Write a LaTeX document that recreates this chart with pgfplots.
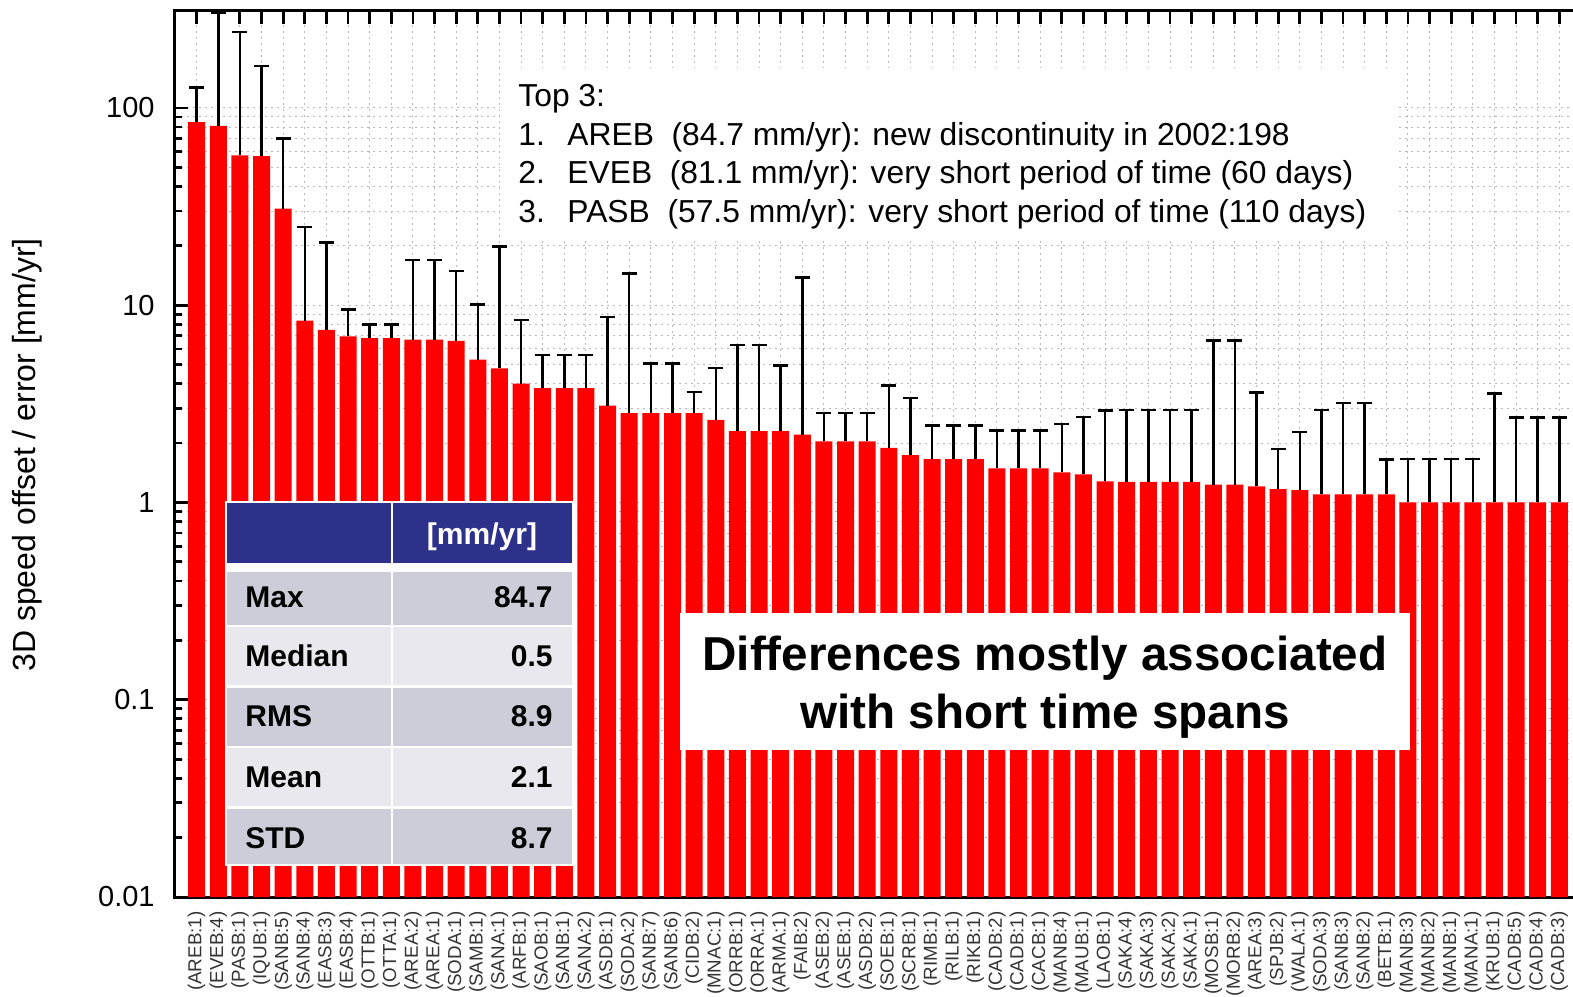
\documentclass[border=0pt]{standalone}
\usepackage{pgfplots}
\pgfplotsset{compat=1.18}
\usepackage{pgfplotstable}
\usepackage{fontspec}
\setmainfont{Liberation Sans}
\definecolor{tabnavy}{RGB}{46,49,137}
\definecolor{rowdark}{RGB}{205,205,217}
\definecolor{rowlight}{RGB}{232,232,238}

% station, 3D speed offset and upper error (mm/yr)
\pgfplotstableread{
x y e lab
1 84.7 42.3 (AREB:1)
2 81.1 224 (EVEB:4)
3 57.5 185.5 (PASB:1)
4 56.9 106.1 (IQUB:1)
5 30.9 39.1 (SANB:5)
6 8.36 16.54 (SANB:4)
7 7.5 13.3 (EASB:3)
8 6.94 2.56 (EASB:4)
9 6.8 1.2 (OTTB:1)
10 6.8 1.2 (OTTA:1)
11 6.7 10.2 (AREA:2)
12 6.7 10.2 (AREA:1)
13 6.6 8.3 (SODA:1)
14 5.3 4.8 (SAMB:1)
15 4.78 15.1 (SANA:1)
16 4.0 4.4 (ARFB:1)
17 3.8 1.8 (SAOB:1)
18 3.8 1.8 (SANB:1)
19 3.8 1.8 (SANA:2)
20 3.1 5.6 (ASDB:1)
21 2.84 11.66 (SODA:2)
22 2.84 2.23 (SANB:7)
23 2.84 2.23 (SANB:6)
24 2.84 0.8 (CIDB:2)
25 2.62 2.18 (MNAC:1)
26 2.30 3.97 (ORRB:1)
27 2.30 3.97 (ORRA:1)
28 2.30 2.66 (ARMA:1)
29 2.21 11.59 (FAIB:2)
30 2.04 0.8 (ASEB:2)
31 2.04 0.8 (ASEB:1)
32 2.04 0.8 (ASDB:2)
33 1.89 2.03 (SOEB:1)
34 1.74 1.64 (SCRB:1)
35 1.66 0.79 (RIMB:1)
36 1.66 0.79 (RILB:1)
37 1.66 0.79 (RIKB:1)
38 1.49 0.83 (CADB:2)
39 1.49 0.83 (CADB:1)
40 1.49 0.83 (CACB:1)
41 1.42 1.08 (MANB:4)
42 1.39 1.32 (MAUB:1)
43 1.28 1.65 (LAOB:1)
44 1.27 1.68 (SAKA:4)
45 1.27 1.68 (SAKA:3)
46 1.27 1.68 (SAKA:2)
47 1.27 1.68 (SAKA:1)
48 1.23 5.39 (MOSB:1)
49 1.23 5.39 (MORB:2)
50 1.205 2.415 (AREA:3)
51 1.17 0.70 (SPJB:2)
52 1.155 1.125 (WALA:1)
53 1.10 1.84 (SODA:3)
54 1.10 2.09 (SANB:3)
55 1.10 2.09 (SANB:2)
56 1.10 0.55 (BETB:1)
57 1.0 0.66 (MANB:3)
58 1.0 0.66 (MANB:2)
59 1.0 0.66 (MANB:1)
60 1.0 0.66 (MANA:1)
61 1.0 2.57 (KRUB:1)
62 1.0 1.69 (CADB:5)
63 1.0 1.69 (CADB:4)
64 1.0 1.69 (CADB:3)
}\speeds

\begin{document}
\begin{tikzpicture}
\begin{axis}[
    scale only axis,
    width=713.8pt, height=443pt,
    ymode=log, log origin=infty,
    xmin=0, xmax=66, ymin=0.01, ymax=310,
    ybar, bar width=8.5pt,
    xtick={1,...,64}, xtick pos=both, ytick pos=both, tick align=inside,
    xticklabels from table={\speeds}{lab},
    xticklabel style={yshift=-7pt, rotate=90, anchor=east, inner sep=0pt,
        font=\fontsize{9.4}{11}\selectfont, text=black!80},
    ytick={0.01,0.1,1,10,100},
    yticklabels={0.01,0.1,1,10,100},
    yticklabel style={anchor=east, inner sep=0pt, xshift=-10pt,
        font=\fontsize{14.5}{16}\selectfont},
    ylabel={3D speed offset / error [mm/yr]},
    ylabel style={at={(axis description cs:-0.1037,0.499)}, anchor=center,
        font=\fontsize{16}{18}\selectfont},
    grid=both,
    grid style={dash pattern=on 1.2pt off 1.8pt, gray!55, line width=0.5pt},
    minor grid style={dash pattern=on 1.2pt off 1.8pt, gray!55, line width=0.5pt},
    axis line style={line width=1.5pt},
    tick style={black, line width=1.4pt},
    major tick length=6.5pt, minor tick length=3.5pt,
]
\addplot[fill=red, draw=none,
    error bars/.cd, y dir=plus, y explicit,
    error bar style={black, line width=1.25pt},
    error mark options={rotate=90, black, line width=1.25pt, mark size=3.75pt}]
    table[x=x, y=y, y error=e]{\speeds};
\end{axis}

\begin{scope}[x=0.5pt, y=-0.5pt, shift={(-87.5pt,448.5pt)}]
  % tick comb hanging from the top frame, one per bar (21.63 px per bar)
  \foreach \i in {1,...,64} {
    \draw[black, line width=1.4pt] ({175+21.63*\i},11) -- ++(0,13);
  }

  % top three box
  \fill[white] (500,68) rectangle (1397,240);
  \begin{scope}[every node/.style={anchor=base west, inner sep=0pt,
      font=\fontsize{15.9}{18}\selectfont}]
    \node at (518,107) {Top 3:};
    \node at (518,145.5) {1.};
    \node at (567,145.5) {AREB\ \ (84.7 mm/yr): new discontinuity in 2002:198};
    \node at (518,184) {2.};
    \node at (567,184) {EVEB\ \ (81.1 mm/yr): very short period of time (60 days)};
    \node at (518,222.5) {3.};
    \node at (567,222.5) {PASB\ \ (57.5 mm/yr): very short period of time (110 days)};
  \end{scope}

  % statistics table
  \fill[white] (225,501) rectangle (574,866);
  \fill[tabnavy] (227,503) rectangle (391,563);
  \fill[tabnavy] (393,503) rectangle (572,563);
  \fill[rowdark] (227,572) rectangle (391,625);
  \fill[rowdark] (393,572) rectangle (572,625);
  \fill[rowlight] (227,627) rectangle (391,685);
  \fill[rowlight] (393,627) rectangle (572,685);
  \fill[rowdark] (227,688) rectangle (391,746);
  \fill[rowdark] (393,688) rectangle (572,746);
  \fill[rowlight] (227,748) rectangle (391,806);
  \fill[rowlight] (393,748) rectangle (572,806);
  \fill[rowdark] (227,809) rectangle (391,864);
  \fill[rowdark] (393,809) rectangle (572,864);
  \begin{scope}[every node/.style={inner sep=0pt,
      font=\fontsize{15}{18}\selectfont\bfseries}]
    \node[anchor=base, text=white] at (482,545) {[mm/yr]};
    \node[anchor=base west] at (245,608) {Max};
    \node[anchor=base east] at (553,608) {84.7};
    \node[anchor=base west] at (245,667) {Median};
    \node[anchor=base east] at (553,667) {0.5};
    \node[anchor=base west] at (245,727) {RMS};
    \node[anchor=base east] at (553,727) {8.9};
    \node[anchor=base west] at (245,787) {Mean};
    \node[anchor=base east] at (553,787) {2.1};
    \node[anchor=base west] at (245,848) {STD};
    \node[anchor=base east] at (553,848) {8.7};
  \end{scope}

  % conclusion box
  \fill[white] (680,613) rectangle (1410,750);
  \begin{scope}[every node/.style={anchor=base, inner sep=0pt,
      font=\fontsize{23.8}{28}\selectfont\bfseries}]
    \node at (1045,670) {Differences mostly associated};
    \node at (1045,728) {with short time spans};
  \end{scope}

  \pgfresetboundingbox
  \path[use as bounding box] (0,0) rectangle (1573,996);
\end{scope}
\end{tikzpicture}
\end{document}
